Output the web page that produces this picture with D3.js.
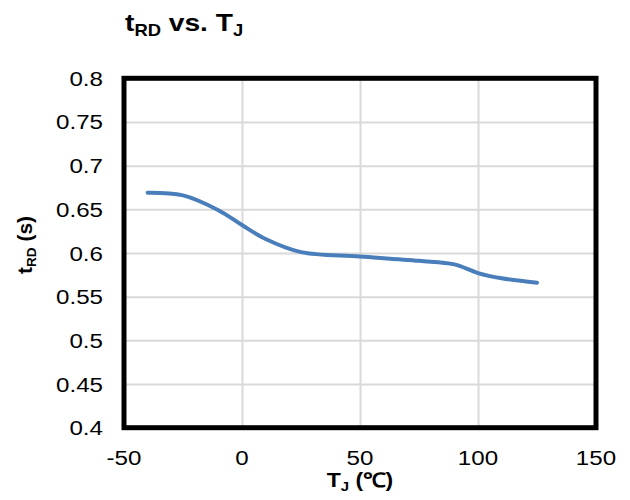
<!DOCTYPE html>
<html>
<head>
<meta charset="utf-8">
<script src="https://cdn.jsdelivr.net/npm/d3@7"></script>
<style>
  body { margin: 0; background: #fff; }
  svg { display: block; }
</style>
</head>
<body>
<svg id="chart" width="630" height="500"></svg>
<script>
// junction temperature (°C) and reverse-delay time t_RD (s)
const tempJ = [-40, -25, -10, 0, 10, 25, 50, 75, 90, 100, 110, 125]
const tRD = [0.669, 0.666, 0.649, 0.632, 0.616, 0.601, 0.596, 0.591, 0.587, 0.577, 0.571, 0.566]
const xTicks = [-50, 0, 50, 100, 150]
const yTicks = [0.4, 0.45, 0.5, 0.55, 0.6, 0.65, 0.7, 0.75, 0.8]

const svg = d3.select("#chart")
const font = "'Liberation Sans', Arial, sans-serif"
const stretch = 1.15 // glyphs run a little wide

const plotL = 124, plotR = 596, plotT = 78.3, plotB = 427.7
const x = d3.scaleLinear().domain([-50, 150]).range([plotL, plotR])
const y = d3.scaleLinear().domain([0.4, 0.8]).range([plotB, plotT])

// wide text helper: positions a label then stretches it horizontally
function label(px, py, anchor, size, weight) {
  return svg.append("g")
    .attr("transform", `translate(${px},${py}) scale(${stretch},1)`)
    .append("text")
    .attr("text-anchor", anchor)
    .style("font-family", font)
    .style("font-size", size + "px")
    .style("font-weight", weight)
    .style("fill", "#000")
}

// gridlines
svg.append("g")
  .attr("transform", `translate(${plotL},0)`)
  .call(d3.axisLeft(y).tickValues(yTicks).tickSize(-(plotR - plotL)).tickFormat(""))
  .call(g => g.select(".domain").remove())
  .call(g => g.selectAll("line").attr("stroke", "#d9d9d9").attr("stroke-width", 2))

svg.append("g")
  .attr("transform", `translate(0,${plotB})`)
  .call(d3.axisBottom(x).tickValues(xTicks).tickSize(-(plotB - plotT)).tickFormat(""))
  .call(g => g.select(".domain").remove())
  .call(g => g.selectAll("line").attr("stroke", "#d9d9d9").attr("stroke-width", 2))

// data curve
const line = d3.line()
  .x((d, i) => x(tempJ[i]))
  .y(d => y(d))
  .curve(d3.curveCatmullRom.alpha(0.5))

svg.append("path")
  .datum(tRD)
  .attr("d", line)
  .attr("fill", "none")
  .attr("stroke", "#4a7ebb")
  .attr("stroke-width", 4)
  .attr("stroke-linecap", "round")

// plot frame
svg.append("rect")
  .attr("x", plotL)
  .attr("y", plotT)
  .attr("width", plotR - plotL)
  .attr("height", plotB - plotT)
  .attr("fill", "none")
  .attr("stroke", "#000")
  .attr("stroke-width", 5)

// tick labels
yTicks.forEach(v => {
  label(103, y(v) + 7.5, "end", 21, "normal").text(+v.toFixed(2))
})
xTicks.forEach(v => {
  label(x(v), 465, "middle", 21, "normal").text(v)
})

// axis titles
const xt = label(360, 487, "middle", 20, "bold")
xt.append("tspan").text("T")
xt.append("tspan").attr("dy", 4).style("font-size", "13px").text("J")
xt.append("tspan").attr("dy", -4).text(" (℃)")

const yt = svg.append("g")
  .attr("transform", "translate(32,245) rotate(-90) scale(1.05,1)")
  .append("text")
  .attr("text-anchor", "middle")
  .style("font-family", font)
  .style("font-size", "20px")
  .style("font-weight", "bold")
yt.append("tspan").text("t")
yt.append("tspan").attr("dy", 4).style("font-size", "13px").text("RD")
yt.append("tspan").attr("dy", -4).text(" (s)")

// chart title
const title = label(125, 31, "start", 24.5, "bold")
title.append("tspan").text("t")
title.append("tspan").attr("dy", 5).style("font-size", "16px").text("RD")
title.append("tspan").attr("dy", -5).text(" vs. T")
title.append("tspan").attr("dy", 5).style("font-size", "16px").text("J")
</script>
</body>
</html>
